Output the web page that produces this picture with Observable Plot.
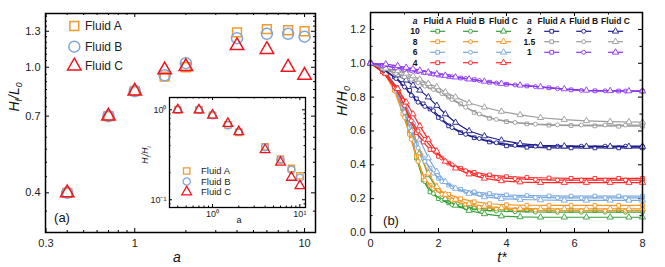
<!DOCTYPE html>
<html><head><meta charset="utf-8">
<script src="https://cdn.jsdelivr.net/npm/d3@7"></script>
<script src="https://cdn.jsdelivr.net/npm/@observablehq/plot@0.6"></script>
<style>
body{margin:0;background:#fff;}
#wrap{position:relative;width:665px;height:267px;overflow:hidden;font-family:"Liberation Sans",Arial,sans-serif;}
#wrap > svg{position:absolute;}
</style></head><body><div id="wrap"></div>
<script>
// ---------- Panel (a) data ----------
const aValues = [0.4, 0.7, 1, 1.5, 2, 4, 6, 8, 10];
const hfL0_A = [0.40, 0.70, 0.84, 0.934, 1.00, 1.29, 1.32, 1.31, 1.30];
const hfL0_B = [0.40, 0.70, 0.84, 0.943, 1.03, 1.236, 1.276, 1.276, 1.25];
const hfL0_C = [0.40, 0.70, 0.84, 0.981, 1.005, 1.17, 1.138, 1.00, 0.943];
// inset
const hfHi_A = [1.0, 1.0, 0.87, 0.68, 0.56, 0.388, 0.283, 0.223, 0.185];
const hfHi_B = [1.0, 1.0, 0.87, 0.675, 0.57, 0.383, 0.276, 0.215, 0.176];
const hfHi_C = [1.0, 0.995, 0.87, 0.704, 0.57, 0.359, 0.26, 0.177, 0.143];
const fluidNames = ["Fluid A", "Fluid B", "Fluid C"];

// tick labels
const xTicksA = [0.3, 1, 10];
const xMinorA = [0.4, 0.5, 0.6, 0.7, 0.8, 0.9, 2, 3, 4, 5, 6, 7, 8, 9];
const yTicksA = [0.4, 0.7, 1.0, 1.3];
const yMinorA = [0.35, 0.45, 0.5, 0.55, 0.6, 0.65, 0.75, 0.8, 0.85, 0.9, 0.95, 1.05, 1.1, 1.15, 1.2, 1.25, 1.35, 1.4, 1.45];
const xTicksIn = [1, 10];
const xMinorIn = [0.4, 0.5, 0.6, 0.7, 0.8, 0.9, 2, 3, 4, 5, 6, 7, 8, 9];
const yTicksIn = [0.1, 1];
const yMinorIn = [0.09, 0.2, 0.3, 0.4, 0.5, 0.6, 0.7, 0.8, 0.9];
const xTicksB = [0, 2, 4, 6, 8];
const xMinorB = [1, 3, 5, 7];
const yTicksB = [0, 0.2, 0.4, 0.6, 0.8, 1.0, 1.2];
const yMinorB = [0.1, 0.3, 0.5, 0.7, 0.9, 1.1];

// ---------- Panel (b) data ----------
const tA = [0, 0.35, 0.7, 0.95, 1.15, 1.35, 1.55, 1.75, 2.0, 2.3, 2.65, 3.05, 3.5, 4.0, 4.6, 5.25, 5.9, 6.6, 7.3, 8.0];
const tB = [0, 0.4, 0.75, 1.0, 1.2, 1.4, 1.6, 1.85, 2.1, 2.4, 2.8, 3.2, 3.7, 4.25, 4.85, 5.5, 6.2, 6.9, 7.5, 8.0];
const tC = [0, 0.45, 0.8, 1.05, 1.25, 1.45, 1.7, 1.95, 2.2, 2.5, 2.9, 3.35, 3.85, 4.4, 5.0, 5.7, 6.35, 7.05, 7.6, 8.0];

const h10A = [1.0, 0.97, 0.86, 0.73, 0.59, 0.44, 0.31, 0.24, 0.2, 0.175, 0.158, 0.145, 0.138, 0.134, 0.132, 0.13, 0.13, 0.13, 0.13, 0.13];
const h10B = [1.0, 0.96, 0.84, 0.7, 0.56, 0.42, 0.3, 0.23, 0.19, 0.165, 0.145, 0.134, 0.127, 0.123, 0.121, 0.12, 0.12, 0.12, 0.12, 0.12];
const h10C = [1.0, 0.95, 0.84, 0.72, 0.6, 0.47, 0.34, 0.26, 0.2, 0.16, 0.13, 0.11, 0.097, 0.092, 0.09, 0.09, 0.09, 0.09, 0.09, 0.09];

const h8A = [1.0, 0.96, 0.84, 0.7, 0.58, 0.45, 0.33, 0.28, 0.25, 0.225, 0.2, 0.182, 0.17, 0.164, 0.161, 0.16, 0.16, 0.16, 0.16, 0.16];
const h8B = [1.0, 0.95, 0.83, 0.68, 0.55, 0.42, 0.31, 0.26, 0.225, 0.19, 0.165, 0.15, 0.14, 0.135, 0.132, 0.13, 0.13, 0.13, 0.13, 0.13];
const h8C = [1.0, 0.95, 0.84, 0.72, 0.6, 0.47, 0.35, 0.27, 0.225, 0.195, 0.17, 0.155, 0.146, 0.142, 0.14, 0.14, 0.14, 0.14, 0.14, 0.14];

const h6A = [1.0, 0.96, 0.86, 0.74, 0.62, 0.52, 0.44, 0.38, 0.32, 0.28, 0.255, 0.24, 0.23, 0.222, 0.218, 0.216, 0.215, 0.215, 0.215, 0.215];
const h6B = [1.0, 0.95, 0.84, 0.71, 0.6, 0.5, 0.42, 0.35, 0.3, 0.27, 0.24, 0.225, 0.215, 0.21, 0.207, 0.205, 0.205, 0.205, 0.205, 0.205];
const h6C = [1.0, 0.95, 0.85, 0.75, 0.65, 0.55, 0.44, 0.36, 0.3, 0.26, 0.23, 0.21, 0.2, 0.195, 0.192, 0.19, 0.19, 0.19, 0.19, 0.19];

const h4A = [1.0, 0.95, 0.86, 0.78, 0.67, 0.59, 0.535, 0.49, 0.45, 0.41, 0.38, 0.355, 0.34, 0.33, 0.325, 0.322, 0.32, 0.32, 0.32, 0.32];
const h4B = [1.0, 0.94, 0.85, 0.75, 0.66, 0.6, 0.55, 0.49, 0.44, 0.4, 0.365, 0.34, 0.325, 0.318, 0.313, 0.31, 0.31, 0.31, 0.31, 0.31];
const h4C = [1.0, 0.94, 0.85, 0.77, 0.7, 0.63, 0.55, 0.48, 0.42, 0.38, 0.345, 0.32, 0.305, 0.298, 0.295, 0.295, 0.295, 0.295, 0.295, 0.295];

const h2A = [1.0, 0.97, 0.92, 0.88, 0.84, 0.79, 0.76, 0.73, 0.68, 0.63, 0.59, 0.56, 0.535, 0.512, 0.504, 0.5, 0.5, 0.5, 0.5, 0.5];
const h2B = [1.0, 0.96, 0.91, 0.86, 0.81, 0.77, 0.745, 0.72, 0.67, 0.62, 0.58, 0.555, 0.53, 0.515, 0.51, 0.51, 0.51, 0.51, 0.51, 0.51];
const h2C = [1.0, 0.97, 0.93, 0.9, 0.87, 0.84, 0.8, 0.75, 0.7, 0.65, 0.6, 0.57, 0.545, 0.525, 0.515, 0.51, 0.508, 0.508, 0.508, 0.508];

const h15A = [1.0, 0.97, 0.945, 0.925, 0.91, 0.895, 0.875, 0.86, 0.84, 0.8, 0.76, 0.71, 0.675, 0.655, 0.642, 0.635, 0.632, 0.63, 0.628, 0.628];
const h15B = [1.0, 0.965, 0.94, 0.92, 0.905, 0.885, 0.865, 0.845, 0.82, 0.785, 0.74, 0.7, 0.668, 0.65, 0.64, 0.636, 0.635, 0.635, 0.635, 0.635];
const h15C = [1.0, 0.97, 0.955, 0.94, 0.925, 0.905, 0.88, 0.86, 0.83, 0.8, 0.765, 0.74, 0.715, 0.695, 0.678, 0.667, 0.66, 0.655, 0.653, 0.652];

const h1A = [1.0, 0.988, 0.975, 0.966, 0.96, 0.953, 0.946, 0.94, 0.93, 0.922, 0.913, 0.903, 0.888, 0.876, 0.866, 0.855, 0.843, 0.837, 0.836, 0.835];
const h1B = [1.0, 0.987, 0.973, 0.964, 0.958, 0.951, 0.944, 0.936, 0.928, 0.92, 0.91, 0.898, 0.883, 0.872, 0.862, 0.85, 0.84, 0.837, 0.836, 0.835];
const h1C = [1.0, 0.995, 0.985, 0.975, 0.967, 0.958, 0.947, 0.937, 0.928, 0.918, 0.906, 0.893, 0.88, 0.87, 0.86, 0.848, 0.84, 0.837, 0.836, 0.836];

const seriesLabels = ["10", "8", "6", "4", "2", "1.5", "1"];
const seriesValues = [[h10A, h10B, h10C], [h8A, h8B, h8C], [h6A, h6B, h6C], [h4A, h4B, h4C],
                      [h2A, h2B, h2C], [h15A, h15B, h15C], [h1A, h1B, h1C]];

// ---------- styles ----------
const FONT = '"Liberation Sans", Arial, sans-serif';
const fluidColors = ["#f39a2e", "#7ea6dc", "#f0141e"];
const fluidSymbols = ["square", "circle", "triangle"];
const fluidR = [5, 5.5, 5];
const seriesColors = ["#35a035", "#f7941d", "#78a8e0", "#ff2626", "#1c1c8c", "#9a9a9a", "#8c35f0"];
const symR_B = [2.1, 2.0, 2.3];

function frameTicks(xs, ys, len, W, H) {
  return [
    Plot.tickX(xs, {x: d => d, insetTop: H - len, stroke: "#000", strokeWidth: 1}),
    Plot.tickX(xs, {x: d => d, insetBottom: H - len, stroke: "#000", strokeWidth: 1}),
    Plot.tickY(ys, {y: d => d, insetRight: W - len, stroke: "#000", strokeWidth: 1}),
    Plot.tickY(ys, {y: d => d, insetLeft: W - len, stroke: "#000", strokeWidth: 1})
  ];
}

const wrap = document.getElementById("wrap");

// ---------- Panel (a) ----------
{
  const W = 330, H = 267, mL = 45, mR = 15, mT = 13, mB = 35;
  const iw = W - mL - mR, ih = H - mT - mB;
  const fluidsVals = [hfL0_A, hfL0_B, hfL0_C];
  const dots = fluidsVals.map((vals, j) =>
    Plot.dot(aValues.map((a, i) => ({a, v: vals[i]})), {
      x: "a", y: "v", symbol: fluidSymbols[j], r: fluidR[j],
      stroke: fluidColors[j], fill: "none", strokeWidth: 1.5
    }));
  const p = Plot.plot({
    width: W, height: H, marginLeft: mL, marginRight: mR, marginTop: mT, marginBottom: mB,
    style: {background: "transparent", fontFamily: FONT, fontSize: "11px", color: "#222"},
    x: {type: "log", domain: [0.298, 11.6], axis: null},
    y: {type: "log", domain: [0.2995, 1.48]},
    marks: [
      ...frameTicks(xTicksA, yTicksA, 4, iw, ih),
      ...frameTicks(xMinorA, yMinorA, 2, iw, ih),
      Plot.text(xTicksA, {x: d => d, text: d => String(d), frameAnchor: "bottom", dy: 14,
        fontSize: 11, fill: "#222"}),
      Plot.axisY(yTicksA, {tickSize: 0, tickPadding: 5, tickFormat: d3.format(".1f"), label: null, fontSize: 11}),
      ...dots,
      Plot.frame({stroke: "#000", strokeWidth: 1.5})
    ]
  });
  p.style.left = "0px"; p.style.top = "0px";
  wrap.appendChild(p);
}

// ---------- Inset ----------
{
  const W = 168, H = 135, mL = 30, mR = 2, mT = 2, mB = 23;
  const iw = W - mL - mR, ih = H - mT - mB;
  const fluidsVals = [hfHi_A, hfHi_B, hfHi_C];
  const dots = fluidsVals.map((vals, j) =>
    Plot.dot(aValues.map((a, i) => ({a, v: vals[i]})), {
      x: "a", y: "v", symbol: fluidSymbols[j], r: 3.6,
      stroke: fluidColors[j], fill: "none", strokeWidth: 1.3
    }));
  const sup = d => d === 1 ? "10\u2070" : d === 10 ? "10\u00B9" : "10\u207B\u00B9";
  const p = Plot.plot({
    width: W, height: H, marginLeft: mL, marginRight: mR, marginTop: mT, marginBottom: mB,
    style: {background: "transparent", fontFamily: FONT, fontSize: "9px", color: "#222"},
    x: {type: "log", domain: [0.322, 11.6]},
    y: {type: "log", domain: [0.082, 1.37]},
    marks: [
      Plot.frame({fill: "white"}),
      ...frameTicks(xTicksIn, yTicksIn, 3, iw, ih),
      ...frameTicks(xMinorIn, yMinorIn, 1.5, iw, ih),
      Plot.axisX(xTicksIn, {tickSize: 0, tickPadding: 3, tickFormat: sup, label: null, fontSize: 9}),
      Plot.axisY(yTicksIn, {tickSize: 0, tickPadding: 3, tickFormat: sup, label: null, fontSize: 9}),
      ...dots,
      Plot.frame({stroke: "#000", strokeWidth: 1.3})
    ]
  });
  p.style.left = "139px"; p.style.top = "95px";
  wrap.appendChild(p);
}

// ---------- Panel (b) ----------
{
  const W = 335, H = 267, mL = 40, mR = 23, mT = 12, mB = 35;
  const iw = W - mL - mR, ih = H - mT - mB;
  const times = [tA, tB, tC];
  const marks = [];
  seriesValues.forEach((trip, i) => {
    trip.forEach((vals, j) => {
      const rows = times[j].map((t, k) => ({t, v: vals[k]}));
      marks.push(Plot.line(rows, {x: "t", y: "v", stroke: seriesColors[i], strokeWidth: 1.2}));
      marks.push(Plot.dot(rows, {x: "t", y: "v", symbol: fluidSymbols[j], r: symR_B[j],
        stroke: seriesColors[i], fill: "white", strokeWidth: 0.9}));
    });
  });
  const p = Plot.plot({
    width: W, height: H, marginLeft: mL, marginRight: mR, marginTop: mT, marginBottom: mB,
    style: {background: "transparent", fontFamily: FONT, fontSize: "11px", color: "#222"},
    x: {domain: [0, 8]},
    y: {domain: [0, 1.3]},
    marks: [
      ...frameTicks(xTicksB, yTicksB, 4, iw, ih),
      ...frameTicks(xMinorB, yMinorB, 2.5, iw, ih),
      Plot.axisX(xTicksB, {tickSize: 0, tickPadding: 7, tickFormat: d3.format("d"), label: null, fontSize: 11}),
      Plot.axisY(yTicksB, {tickSize: 0, tickPadding: 5, tickFormat: d3.format(".1f"), label: null, fontSize: 11}),
      ...marks,
      Plot.frame({stroke: "#000", strokeWidth: 1.5})
    ]
  });
  p.style.left = "330px"; p.style.top = "0px";
  wrap.appendChild(p);
}

// ---------- Overlay: titles and legends ----------
{
  const svg = d3.select(wrap).append("svg")
    .attr("width", 665).attr("height", 267)
    .style("left", "0px").style("top", "0px").style("pointer-events", "none")
    .attr("font-family", FONT);
  const symMap = {square: d3.symbolSquare, circle: d3.symbolCircle, triangle: d3.symbolTriangle};
  const sym = (name, r) => d3.symbol(symMap[name], Math.PI * r * r)();

  const ttl = (x, y, parts, size, rotate) => {
    const t = svg.append("text").attr("font-size", size).attr("fill", "#111")
      .attr("text-anchor", "middle")
      .attr("transform", `translate(${x},${y})` + (rotate ? " rotate(-90)" : ""));
    let shifted = 0;
    parts.forEach(([txt, sub, italic]) => {
      const dy = (sub ? 3 : 0) - shifted;
      shifted = sub ? 3 : 0;
      t.append("tspan").attr("dy", dy).attr("font-style", italic ? "italic" : "normal")
        .attr("font-size", sub ? size * 0.62 : size).text(txt);
    });
    return t;
  };
  ttl(18.5, 97, [["H", 0, 1], ["f", 1, 1], ["/", 0, 1], ["L", 0, 1], ["0", 1, 1]], 14, true);
  ttl(346.5, 101, [["H", 0, 1], ["/", 0, 1], ["H", 0, 1], ["0", 1, 1]], 14.5, true);
  ttl(177, 262, [["a", 0, 1]], 14, false);
  ttl(502, 261.5, [["t*", 0, 1]], 14, false);
  ttl(148, 155, [["H", 0, 1], ["f", 1, 1], ["/", 0, 1], ["H", 0, 1], ["i", 1, 1]], 8.5, true);
  ttl(239, 223, [["a", 0, 0]], 9, false);
  ttl(62, 221.5, [["(a)", 0, 0]], 13, false);
  ttl(391, 224.5, [["(b)", 0, 0]], 13, false);

  // panel (a) legend
  const legA = [26, 46.7, 66];
  fluidNames.forEach((name, j) => {
    svg.append("path").attr("d", sym(fluidSymbols[j], fluidR[j]))
      .attr("transform", `translate(74.3,${legA[j]})`)
      .attr("fill", "none").attr("stroke", fluidColors[j]).attr("stroke-width", 1.5);
    svg.append("text").attr("x", 85).attr("y", legA[j] + 4.3).attr("font-size", 12)
      .attr("fill", "#222").text(name);
  });
  // inset legend
  const legI = [171, 181.5, 192];
  fluidNames.forEach((name, j) => {
    svg.append("path").attr("d", sym(fluidSymbols[j], 3.6))
      .attr("transform", `translate(186.7,${legI[j]})`)
      .attr("fill", "none").attr("stroke", fluidColors[j]).attr("stroke-width", 1.3);
    svg.append("text").attr("x", 201).attr("y", legI[j] + 3.3).attr("font-size", 9.5)
      .attr("fill", "#222").text(name);
  });

  // panel (b) legend table
  const groups = [{ax: 415, cols: [437.7, 470.5, 503.5]}, {ax: 529.3, cols: [551.7, 583.7, 615.5]}];
  const rowsY = [31.3, 41.7, 52.3, 62.7];
  groups.forEach(g => {
    svg.append("text").attr("x", g.ax).attr("y", 24).attr("font-size", 8.5)
      .attr("font-weight", "bold").attr("font-style", "italic").attr("text-anchor", "middle")
      .attr("fill", "#111").text("a");
    g.cols.forEach((cx, j) => {
      svg.append("text").attr("x", cx).attr("y", 24).attr("font-size", 8.5)
        .attr("font-weight", "bold").attr("text-anchor", "middle").attr("fill", "#111")
        .text(fluidNames[j]);
    });
  });
  seriesLabels.forEach((lab, i) => {
    const g = groups[i < 4 ? 0 : 1];
    const y = rowsY[i < 4 ? i : i - 4];
    svg.append("text").attr("x", g.ax).attr("y", y + 3).attr("font-size", 8.5)
      .attr("font-weight", "bold").attr("text-anchor", "middle").attr("fill", "#111").text(lab);
    g.cols.forEach((cx, j) => {
      svg.append("line").attr("x1", cx - 7.5).attr("x2", cx + 7.5).attr("y1", y).attr("y2", y)
        .attr("stroke", seriesColors[i]).attr("stroke-width", 1.2);
      svg.append("path").attr("d", sym(fluidSymbols[j], symR_B[j]))
        .attr("transform", `translate(${cx},${y})`)
        .attr("fill", "white").attr("stroke", seriesColors[i]).attr("stroke-width", 0.9);
    });
  });
}
</script>
</body></html>
